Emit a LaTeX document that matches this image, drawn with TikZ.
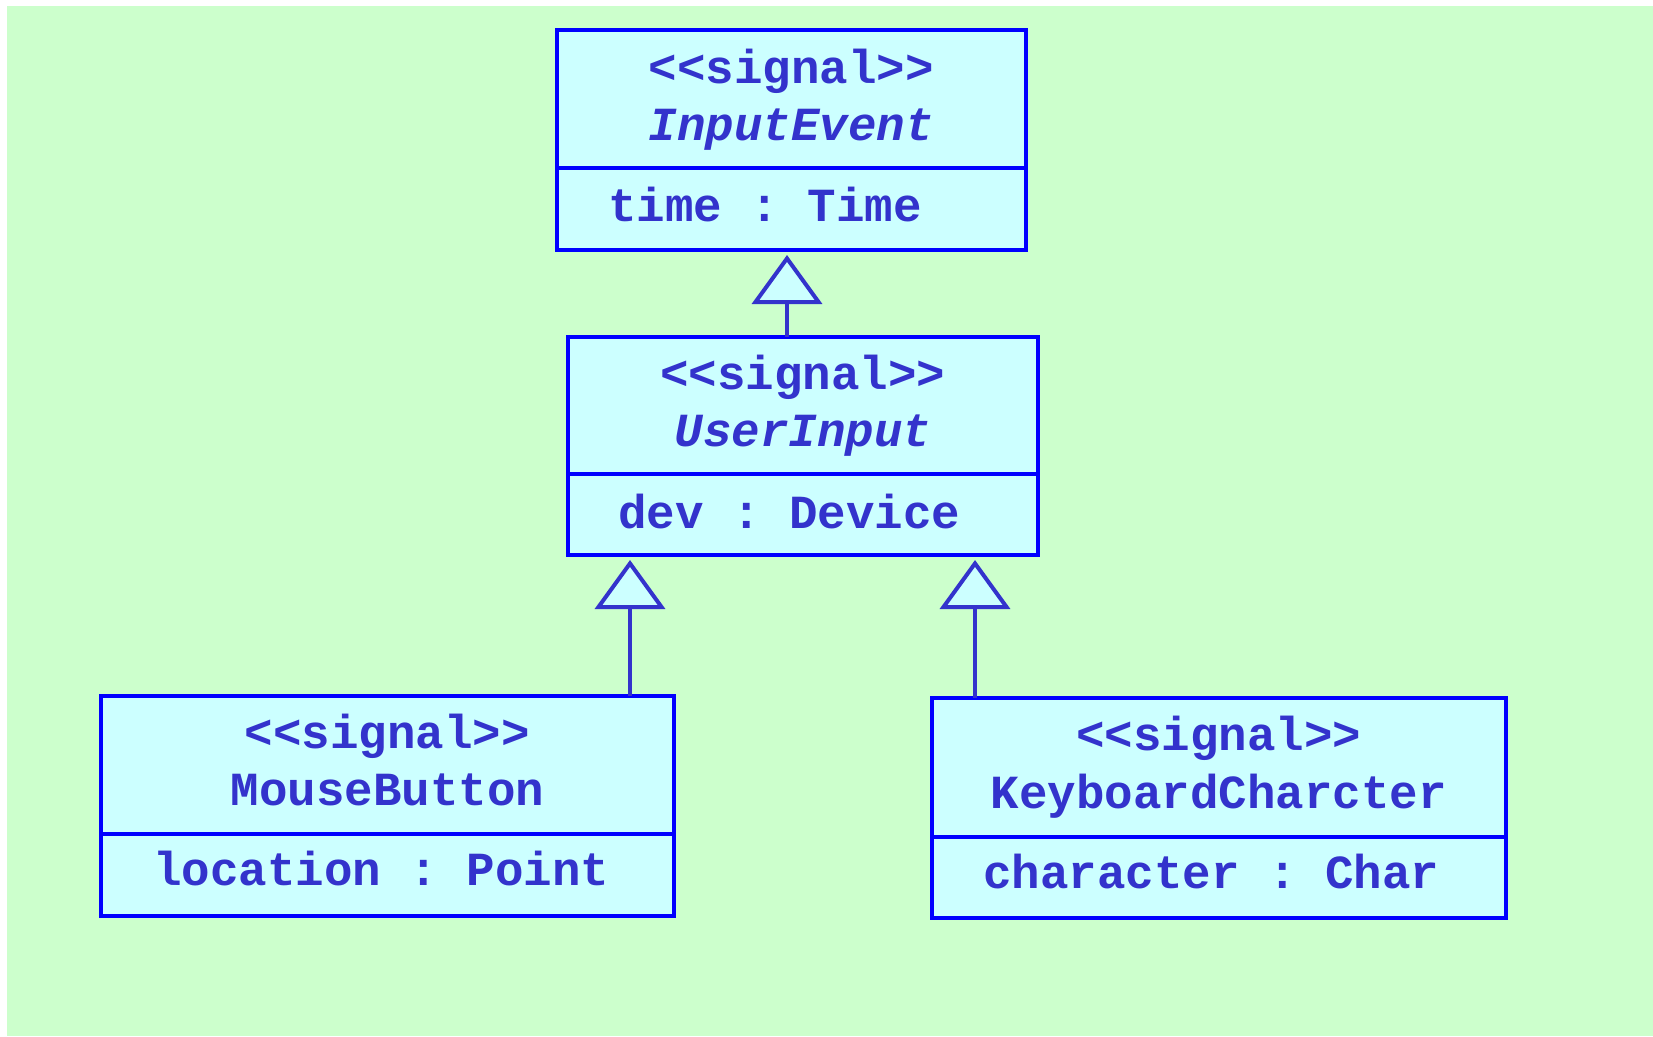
\documentclass[tikz,border=0pt]{standalone}
\usepackage{fontspec}
\setmonofont{Liberation Mono}
\usetikzlibrary{arrows.meta}
\definecolor{bggreen}{HTML}{CCFFCC}
\definecolor{boxfill}{HTML}{CCFFFF}
\definecolor{boxline}{HTML}{0000FF}
\definecolor{txt}{HTML}{3333CC}
\tikzset{
  cls/.style={draw=boxline, fill=boxfill, line width=4.5pt, rectangle, inner sep=0pt, outer sep=0pt, anchor=north west},
  divline/.style={draw=boxline, line width=4.5pt},
  lbl/.style={text=txt, inner sep=0pt, anchor=base, font=\fontsize{47.5}{50}\selectfont\ttfamily\bfseries},
  attr/.style={lbl, anchor=base west},
  abs/.style={lbl, font=\fontsize{47.5}{50}\selectfont\ttfamily\bfseries\itshape},
  gen/.style={draw=txt, line width=4pt, shorten >=5pt,
    -{Triangle[length=49pt, width=70pt, fill=boxfill, line width=4pt]}}
}
\begin{document}
\begin{tikzpicture}[x=1pt, y=-1pt]
\useasboundingbox (0,0) rectangle (1653,1036);
\fill[bggreen] (7,6) rectangle (1653,1036);

% InputEvent
\node[cls, minimum width=469pt, minimum height=220pt] (ie) at (557,30) {};
\draw[divline] (ie.north west) ++(0,138) -- ++(469,0);
\node[lbl] (ies) at (791.5,83) {<<signal>>};
\node[abs] (ien) at (791.5,140) {InputEvent};
\node[attr] (iea) at (608,221) {time : Time};

% UserInput
\node[cls, minimum width=470pt, minimum height=218pt] (ui) at (568,337) {};
\draw[divline] (ui.north west) ++(0,137) -- ++(470,0);
\node[lbl] (uis) at (803,389) {<<signal>>};
\node[abs] (uin) at (803,446) {UserInput};
\node[attr] (uia) at (618,528) {dev : Device};

% MouseButton
\node[cls, minimum width=573pt, minimum height=220pt] (mb) at (101,696) {};
\draw[divline] (mb.north west) ++(0,138) -- ++(573,0);
\node[lbl] (mbs) at (387.5,748) {<<signal>>};
\node[lbl] (mbn) at (387.5,805) {MouseButton};
\node[attr] (mba) at (153,885) {location : Point};

% KeyboardCharcter
\node[cls, minimum width=574pt, minimum height=220pt] (kc) at (932,698) {};
\draw[divline] (kc.north west) ++(0,139) -- ++(574,0);
\node[lbl] (kcs) at (1219,750) {<<signal>>};
\node[lbl] (kcn) at (1219,808) {KeyboardCharcter};
\node[attr] (kca) at (983,888) {character : Char};

% generalization connectors
\coordinate (x1) at (787,0);
\coordinate (x2) at (630,0);
\coordinate (x3) at (975,0);
\draw[gen] (ui.north -| x1) -- (ie.south -| x1);
\draw[gen] (mb.north -| x2) -- (ui.south -| x2);
\draw[gen] (kc.north -| x3) -- (ui.south -| x3);
\end{tikzpicture}
\end{document}
